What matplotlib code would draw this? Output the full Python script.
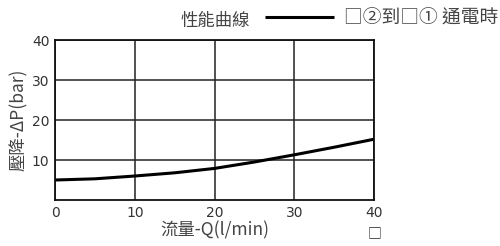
import matplotlib
matplotlib.use("Agg")
import matplotlib.pyplot as plt

plt.rcParams['font.family'] = ['DejaVu Sans', 'Noto Sans CJK TC']

# performance curve: flow (l/min) vs pressure drop (bar)
flow = [0, 5, 10, 15, 20, 25, 30, 35, 40]
dp = [5.0, 5.3, 6.0, 6.8, 7.9, 9.5, 11.3, 13.2, 15.2]

x_ticks = [0, 10, 20, 30, 40]
y_ticks = [10, 20, 30, 40]

title = "性能曲線"
series_label = "□②到□① 通電時"
xlabel = "流量-Q(l/min)"
ylabel = "壓降-ΔP(bar)"

cjk = ['Noto Sans CJK TC', 'DejaVu Sans']
grey = "#444444"

fig = plt.figure(figsize=(5.0, 2.46), dpi=100)
ax = fig.add_axes([0.11, 0.187, 0.638, 0.65])

line, = ax.plot(flow, dp, color="black", lw=2.2, label=series_label,
                solid_capstyle="butt")

ax.set_xlim(0, 40)
ax.set_ylim(0, 40)
ax.set_xticks(x_ticks)
ax.set_yticks(y_ticks)
ax.tick_params(length=0, labelsize=10, labelcolor="#333333", pad=4)
ax.grid(True, color="#222222", lw=1.1)
for s in ax.spines.values():
    s.set_color("#111111")
    s.set_linewidth(1.3)

ax.set_xlabel(xlabel, family=cjk, fontsize=12.5, color=grey, labelpad=1)
ax.set_ylabel(ylabel, family=cjk, fontsize=12.5, color=grey, labelpad=3)

fig.text(0.43, 0.915, title, family=cjk, fontsize=12.5, color=grey,
         ha="center", va="center")
leg = fig.legend(handles=[line], loc="center left",
                 bbox_to_anchor=(0.515, 0.925), frameon=False,
                 handlelength=3.7, handletextpad=0.5, borderaxespad=0,
                 prop={'family': cjk, 'size': 13.5})
for t in leg.get_texts():
    t.set_color(grey)

fig.text(0.75, 0.05, "□", family=cjk, fontsize=10, color="#222222",
         ha="center", va="center")

fig.savefig("out.png", dpi=100)
